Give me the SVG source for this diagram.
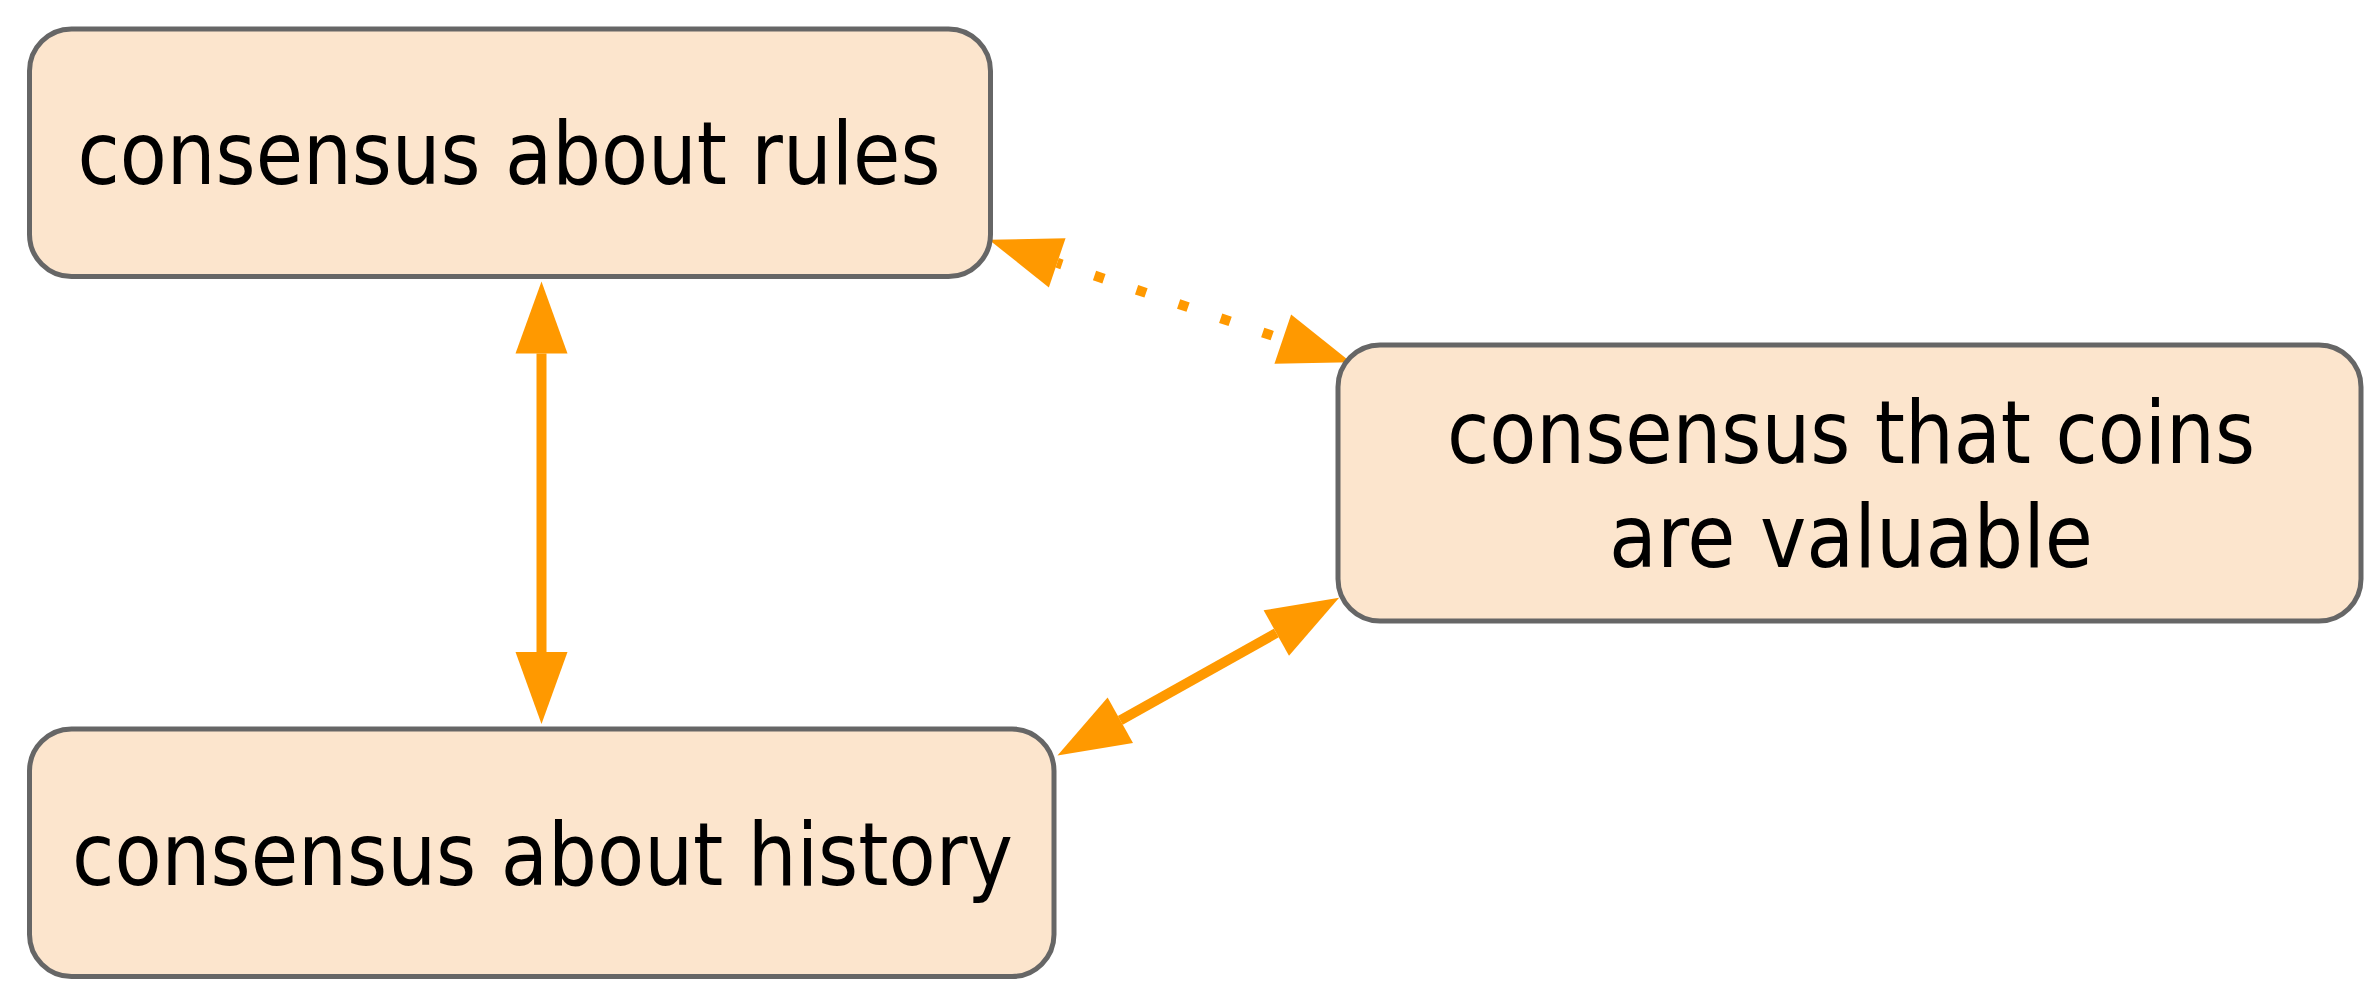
<svg xmlns="http://www.w3.org/2000/svg" width="2380" height="996" viewBox="0 0 2380 996">
<style>
.node rect{fill:#fce5cd;stroke:#666666;stroke-width:5}
.node text{font-family:"DejaVu Sans Condensed","Open Sans","DejaVu Sans",sans-serif;font-stretch:condensed;font-size:87px;fill:#000;text-anchor:middle}
.edge{stroke:#ff9900;stroke-width:10;fill:none}
.dotted{stroke-dasharray:10 34.4;stroke-dashoffset:5}
</style>
<defs>
<marker id="head" markerUnits="userSpaceOnUse" viewBox="0 0 72 52" refX="0" refY="26" markerWidth="72" markerHeight="52" orient="auto-start-reverse" overflow="visible">
<path d="M0,0 L72,26 L0,52 Z" fill="#ff9900"/>
</marker>
</defs>
<rect width="2380" height="996" fill="#ffffff"/>
<g id="connectors">
<line class="edge" x1="541.5" y1="353.5" x2="541.5" y2="652" marker-start="url(#head)" marker-end="url(#head)"/>
<line class="edge dotted" x1="1057.2" y1="262.8" x2="1282.8" y2="339.2" marker-start="url(#head)" marker-end="url(#head)"/>
<line class="edge" x1="1120.3" y1="720.3" x2="1276.3" y2="633" marker-start="url(#head)" marker-end="url(#head)"/>
</g>
<g id="node-rules" class="node">
<rect x="29.5" y="29" width="961" height="247.5" rx="42" ry="42"/>
<text x="509" y="184" textLength="863" lengthAdjust="spacingAndGlyphs">consensus about rules</text>
</g>
<g id="node-history" class="node">
<rect x="29.5" y="729" width="1024.5" height="247.5" rx="42" ry="42"/>
<text x="542.5" y="885" textLength="941" lengthAdjust="spacingAndGlyphs">consensus about history</text>
</g>
<g id="node-coins" class="node">
<rect x="1338" y="345" width="1023" height="276" rx="42" ry="42"/>
<text x="1851" y="462.7" textLength="808" lengthAdjust="spacingAndGlyphs">consensus that coins</text>
<text x="1851" y="567.3" textLength="484" lengthAdjust="spacingAndGlyphs">are valuable</text>
</g>
</svg>
